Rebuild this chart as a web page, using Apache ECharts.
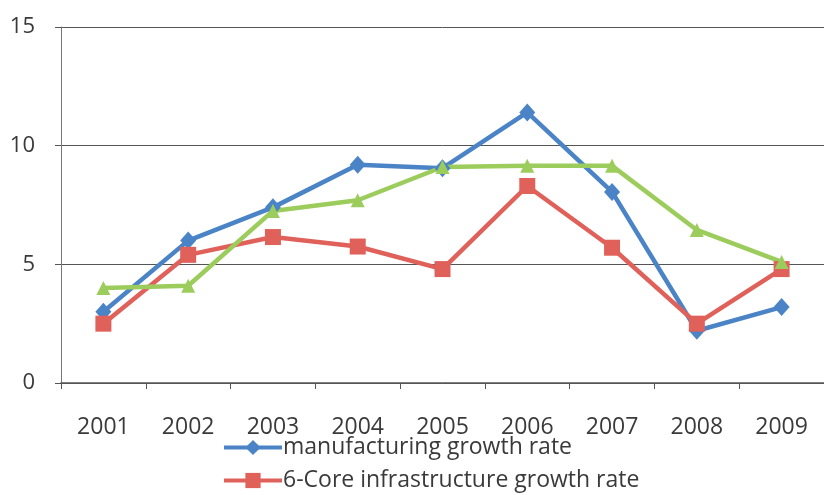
<!DOCTYPE html>
<html>
<head>
<meta charset="utf-8">
<script src="https://cdn.jsdelivr.net/npm/echarts@6/dist/echarts.min.js"></script>
<style>
  html, body { margin: 0; padding: 0; background: #ffffff; }
  #chart { width: 824px; height: 495px; }
</style>
</head>
<body>
<div id="chart"></div>
<script>
// Years on the category axis
const years = ['2001', '2002', '2003', '2004', '2005', '2006', '2007', '2008', '2009'];

// Growth rates (%) per year
const manufacturing = [3.0, 6.0, 7.4, 9.2, 9.05, 11.4, 8.05, 2.2, 3.2];
const coreInfrastructure = [2.5, 5.4, 6.15, 5.75, 4.8, 8.3, 5.7, 2.5, 4.8];
const thirdSeries = [4.0, 4.1, 7.25, 7.7, 9.1, 9.15, 9.15, 6.45, 5.1];

// Value axis ticks
const yTicks = [0, 5, 10, 15];

const textColor = '#3a3a3a';
const font = '"Open Sans"';

const chart = echarts.init(document.getElementById('chart'));

function lineSeries(name, data, color, symbol, size) {
  return {
    name: name,
    type: 'line',
    data: data,
    symbol: symbol,
    symbolSize: size,
    lineStyle: { color: color, width: 4.5 },
    itemStyle: { color: color },
    emphasis: { disabled: true },
    z: 3
  };
}

// One legend block per entry so the entries stack at the bottom edge
function legendEntry(name, top) {
  return {
    left: 222,
    top: top,
    itemWidth: 58,
    itemHeight: 19,
    padding: 0,
    data: [name],
    lineStyle: { width: 4 },
    textStyle: { color: textColor, fontSize: 23, fontFamily: font, padding: [0, 0, 0, -4] }
  };
}

chart.setOption({
  animation: false,
  backgroundColor: '#ffffff',
  grid: { left: 61, right: -7, top: 27, bottom: 112, containLabel: false },
  legend: [
    legendEntry('manufacturing growth rate', 436),
    legendEntry('6-Core infrastructure growth rate', 469)
  ],
  xAxis: {
    type: 'category',
    data: years,
    boundaryGap: true,
    axisLine: { lineStyle: { color: '#555555', width: 1.5 } },
    axisTick: { show: true, length: 6, lineStyle: { color: '#555555' } },
    axisLabel: { color: textColor, fontSize: 23, fontFamily: font, margin: 33 },
    splitLine: { show: false }
  },
  yAxis: {
    type: 'value',
    min: yTicks[0],
    max: yTicks[yTicks.length - 1],
    interval: 5,
    axisLine: { show: true, lineStyle: { color: '#777777', width: 1 } },
    axisTick: { show: true, length: 6, lineStyle: { color: '#555555' } },
    axisLabel: { color: textColor, fontSize: 22, fontFamily: font, margin: 26 },
    splitLine: { show: true, lineStyle: { color: '#555555', width: 1 } }
  },
  series: [
    lineSeries('manufacturing growth rate', manufacturing, '#4a84c6', 'diamond', [16, 18]),
    lineSeries('6-Core infrastructure growth rate', coreInfrastructure, '#e0615a', 'rect', 16),
    lineSeries('other growth rate', thirdSeries, '#9ccc5c', 'triangle', 14)
  ]
});
</script>
</body>
</html>
